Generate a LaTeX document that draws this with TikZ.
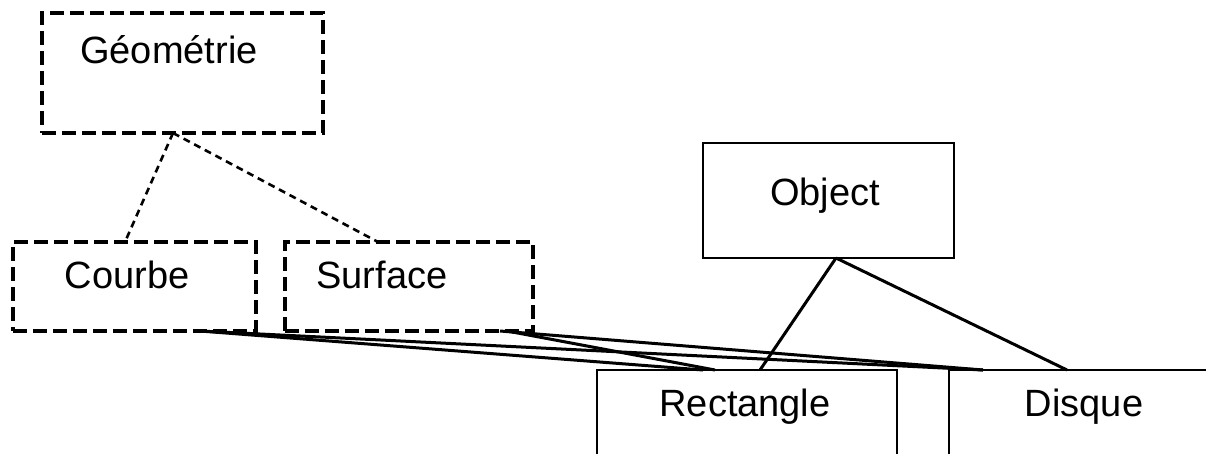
\documentclass[tikz,border=0pt]{standalone}
\usepackage{fontspec}
\setmainfont{Liberation Sans}
\begin{document}
\begin{tikzpicture}[x=1pt,y=-1pt,
  box/.style={draw, line width=2.2pt, inner sep=0pt, outer sep=0pt, anchor=north west},
  dbox/.style={box, line width=3.4pt, dash pattern=on 14pt off 6pt},
  lbl/.style={font=\fontsize{38}{40}\selectfont, anchor=base, inner sep=0pt},
  link/.style={line width=3pt},
  dlink/.style={line width=2.6pt, dash pattern=on 7pt off 5pt}]
\useasboundingbox (0,0) rectangle (1206,453);
\fill[white] (0,0) rectangle (1206,453);
\clip (0,0) rectangle (1206,453);

% boxes
\node[dbox, minimum width=281pt, minimum height=120pt] (geo) at (42,13) {};
\node[dbox, minimum width=243pt, minimum height=89pt] (courbe) at (13,242) {};
\node[dbox, minimum width=248pt, minimum height=89pt] (surface) at (285,242) {};
\node[box, line width=2.8pt, minimum width=251pt, minimum height=115pt] (obj) at (703,143) {};
\node[box, minimum width=300pt, minimum height=150pt] (rect) at (597,370) {};
\node[box, minimum width=300pt, minimum height=150pt] (disque) at (949,370) {};

% labels
\node[lbl] (geo-t) at (169,63) {Géométrie};
\node[lbl] (courbe-t) at (127,288) {Courbe};
\node[lbl] (surface-t) at (382,288) {Surface};
\node[lbl] (obj-t) at (825,205) {Object};
\node[lbl] (rect-t) at (745,416) {Rectangle};
\node[lbl] (disque-t) at (1084,416) {Disque};

% dashed links
\draw[dlink] ([xshift=131pt]geo.south west) -- ([xshift=112pt]courbe.north west);
\draw[dlink] ([xshift=131pt]geo.south west) -- ([xshift=93pt]surface.north west);

% solid links
\draw[link] ([xshift=187pt]courbe.south west) -- ([xshift=106pt]rect.north west);
\draw[link] ([xshift=187pt]courbe.south west) -- ([xshift=34pt]disque.north west);
\draw[link] ([xshift=222pt]surface.south west) -- ([xshift=118pt]rect.north west);
\draw[link] ([xshift=215pt]surface.south west) -- ([xshift=34pt]disque.north west);
\draw[link] ([xshift=133pt]obj.south west) -- ([xshift=163pt]rect.north west);
\draw[link] ([xshift=133pt]obj.south west) -- ([xshift=118pt]disque.north west);
\end{tikzpicture}
\end{document}
